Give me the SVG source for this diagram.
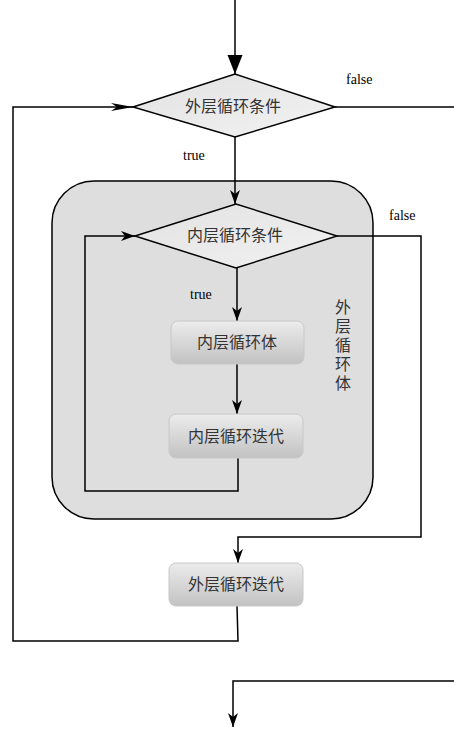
<svg xmlns="http://www.w3.org/2000/svg" width="454" height="729" viewBox="0 0 454 729">
  <style>
    .ln { fill: none; stroke: #000; stroke-width: 1.5; }
    .cn { font-family: "Noto Sans CJK SC", "Noto Sans", sans-serif; font-size: 16px; fill: #333; text-anchor: middle; }
    .vt { font-family: "Noto Sans CJK SC", "Noto Sans", sans-serif; font-size: 16px; fill: #333; writing-mode: vertical-rl; letter-spacing: 3px; }
    .lbl { font-family: "Liberation Serif", "Times New Roman", serif; font-size: 14px; fill: #000; }
    .box { fill: url(#boxGrad); stroke: #c8c8c8; stroke-width: 1; }
    .dia { fill: url(#diaGrad); stroke: #000; stroke-width: 1.5; }
  </style>
  <defs>
    <linearGradient id="boxGrad" x1="0" y1="0" x2="0" y2="1">
      <stop offset="0" stop-color="#ececec"/>
      <stop offset="1" stop-color="#c2c2c2"/>
    </linearGradient>
    <linearGradient id="diaGrad" x1="0" y1="0" x2="1" y2="1">
      <stop offset="0" stop-color="#e2e2e2"/>
      <stop offset="1" stop-color="#f2f2f2"/>
    </linearGradient>
    <marker id="arrow" markerUnits="userSpaceOnUse" markerWidth="16" markerHeight="12" refX="14" refY="6" orient="auto" viewBox="0 0 16 12">
      <path d="M0,1 L14,6 L0,11 L4,6 Z" fill="#000"/>
    </marker>
    <marker id="arrowLong" markerUnits="userSpaceOnUse" markerWidth="24" markerHeight="10" refX="22" refY="5" orient="auto" viewBox="0 0 24 10">
      <path d="M0,1 L22,5 L0,9 L6,5 Z" fill="#000"/>
    </marker>
    <marker id="arrowBig" markerUnits="userSpaceOnUse" markerWidth="20" markerHeight="18" refX="19" refY="9" orient="auto" viewBox="0 0 20 18">
      <path d="M0,1.5 L19,9 L0,16.5 Z" fill="#000"/>
    </marker>
  </defs>

  <!-- outer loop body container -->
  <g id="outer-body">
    <rect x="52" y="181" width="321" height="338" rx="42" ry="42" fill="#dedede" stroke="#000" stroke-width="1.5"/>
    <text class="vt" x="343" y="299">外层循环体</text>
  </g>

  <!-- connectors -->
  <g id="connectors">
    <path class="ln" d="M235,0 V74" marker-end="url(#arrowBig)"/>
    <path class="ln" d="M335,107 H454"/>
    <path class="ln" d="M235,137 V204" marker-end="url(#arrow)"/>
    <path class="ln" d="M237,268 V321" marker-end="url(#arrow)"/>
    <path class="ln" d="M237,364 V414" marker-end="url(#arrow)"/>
    <path class="ln" d="M238,458 V491 H85 V236 H135" marker-end="url(#arrow)"/>
    <path class="ln" d="M337,236 H421 V537 H238 V563" marker-end="url(#arrow)"/>
    <path class="ln" d="M237,606 L238,641 H13 V107 H133" marker-end="url(#arrowLong)"/>
    <path class="ln" d="M454,681 H233 V727" marker-end="url(#arrow)"/>
    <text class="lbl" x="346" y="84">false</text>
    <text class="lbl" x="183" y="160">true</text>
    <text class="lbl" x="389" y="220">false</text>
    <text class="lbl" x="190" y="299">true</text>
  </g>

  <g id="outer-cond">
    <path class="dia" d="M133,107 L235,74 L335,107 L235,137 Z"/>
    <text class="cn" x="233" y="112">外层循环条件</text>
  </g>

  <g id="inner-cond">
    <path class="dia" d="M135,236 L236,204 L337,236 L236,268 Z"/>
    <text class="cn" x="235" y="241">内层循环条件</text>
  </g>

  <g id="inner-body">
    <rect class="box" x="171" y="321" width="133" height="43" rx="7" ry="7"/>
    <text class="cn" x="237" y="348">内层循环体</text>
  </g>

  <g id="inner-iter">
    <rect class="box" x="169" y="414" width="134" height="44" rx="7" ry="7"/>
    <text class="cn" x="236" y="442">内层循环迭代</text>
  </g>

  <g id="outer-iter">
    <rect class="box" x="169" y="563" width="134" height="43" rx="7" ry="7"/>
    <text class="cn" x="236" y="590">外层循环迭代</text>
  </g>
</svg>
